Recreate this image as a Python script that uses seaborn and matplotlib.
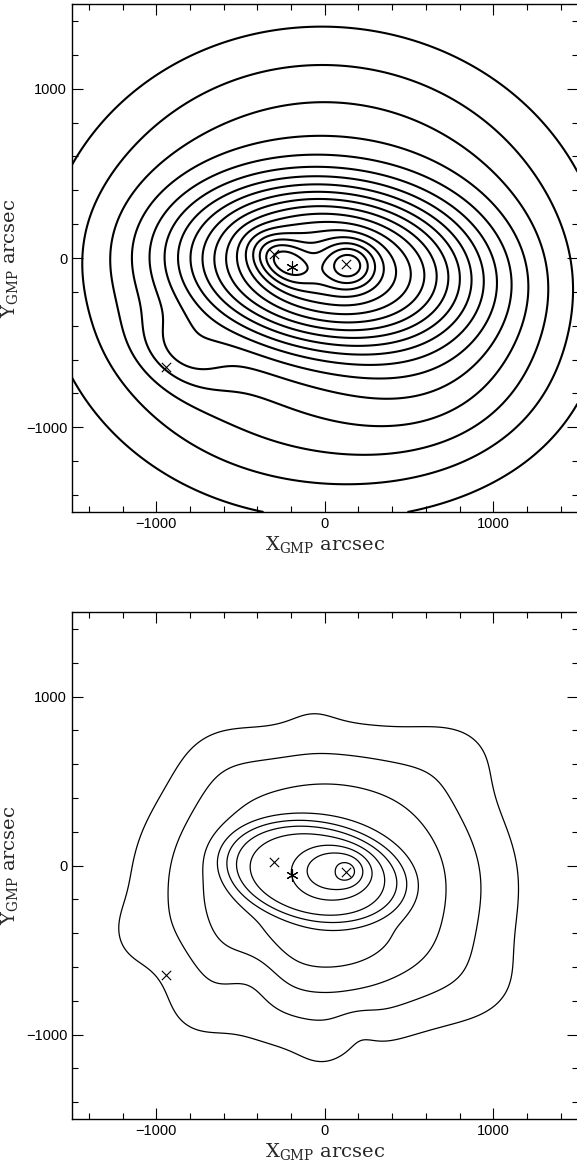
import numpy as np
import pandas as pd
import matplotlib
matplotlib.use("Agg")
import matplotlib.pyplot as plt
from matplotlib.ticker import MultipleLocator
import seaborn as sns

# source positions (arcsec), same in both panels
cross_x = [-300, 128, -940]
cross_y = [22, -38, -645]
star_x = [-197]
star_y = [-55]

# brightness models: one entry per emission component
# x0, y0 (arcsec), amplitude, widths (arcsec), tilt (deg), profile power
top_cx = [-20, 0, -245, 140, 300, -850, 700]
top_cy = [-80, -40, -18, -40, -150, -560, -700]
top_amp = [0.20, 0.49, 0.17, 0.18, 0.07, 0.08, 0.06]
top_sx = [1270, 640, 135, 110, 600, 200, 500]
top_sy = [1120, 360, 85, 95, 450, 130, 400]
top_ang = [0, -5, -30, 0, 0, -30, 0]
top_pow = [2.0, 1.3, 1.0, 1.0, 1.0, 1.0, 1.0]
top_levels = [0.05 * k for k in range(1, 19)]

bot_cx = [0, -60, 60, 136, -70, 800, -650, -1150, 950, -780, -20, 200, -420, 0]
bot_cy = [-125, -40, -30, -35, 900, 700, 650, -420, -750, -880, -1130, -960,
          -640, -480]
bot_amp = [0.385, 0.32, 0.17, 0.075, 0.02, 0.06, 0.04, 0.04, 0.05, 0.04, 0.025,
           -0.03, -0.06, 0.05]
bot_sx = [805, 483, 167, 50, 120, 250, 200, 130, 250, 150, 120, 90, 130, 350]
bot_sy = [680, 260, 110, 50, 120, 200, 200, 150, 200, 150, 120, 90, 150, 150]
bot_ang = [0, -10, 0, 0, 0, 0, 0, 0, 0, 0, 0, 0, 0, 0]
bot_pow = [1.5, 3.0, 1.7, 1, 1, 1, 1, 1, 1, 1, 1, 1, 1, 1]
bot_levels = [0.09 * k for k in range(1, 11)]


def model(cx, cy, amp, sx, sy, ang, pw, X, Y):
    Z = np.zeros_like(X)
    for x0, y0, a, s1, s2, t, p in zip(cx, cy, amp, sx, sy, ang, pw):
        t = np.deg2rad(t)
        u = (X - x0) * np.cos(t) + (Y - y0) * np.sin(t)
        v = -(X - x0) * np.sin(t) + (Y - y0) * np.cos(t)
        q = (u / s1) ** 2 + (v / s2) ** 2
        Z += a * np.exp(-0.5 * q ** p)
    return Z


sns.set_style("ticks")
plt.rcParams["font.family"] = ["Liberation Sans", "DejaVu Sans"]
plt.rcParams["mathtext.fontset"] = "dejavuserif"

grid = np.linspace(-1500, 1500, 401)
X, Y = np.meshgrid(grid, grid)

fig = plt.figure(figsize=(5.77, 11.62), dpi=100)
ax_top = fig.add_axes([72 / 577, 650 / 1162, 505.5 / 577, 508 / 1162])
ax_bot = fig.add_axes([72 / 577, 43 / 1162, 505.5 / 577, 507 / 1162])

panels = [
    (ax_top, model(top_cx, top_cy, top_amp, top_sx, top_sy, top_ang, top_pow, X, Y),
     top_levels, 1.5),
    (ax_bot, model(bot_cx, bot_cy, bot_amp, bot_sx, bot_sy, bot_ang, bot_pow, X, Y),
     bot_levels, 0.9),
]

for ax, Z, levels, lw in panels:
    ax.contour(X, Y, Z, levels=levels, colors="black", linewidths=lw)
    pts = pd.DataFrame({"x": cross_x, "y": cross_y})
    sns.scatterplot(data=pts, x="x", y="y", marker="x", s=45, color="black",
                    linewidth=0.8, ax=ax)
    stars = pd.DataFrame({"x": star_x, "y": star_y})
    sns.scatterplot(data=stars, x="x", y="y", marker=(6, 2, 0), s=70,
                    color="black", linewidth=0.8, ax=ax)
    ax.set_xlim(-1500, 1500)
    ax.set_ylim(-1500, 1500)
    ax.xaxis.set_major_locator(MultipleLocator(1000))
    ax.yaxis.set_major_locator(MultipleLocator(1000))
    ax.xaxis.set_minor_locator(MultipleLocator(200))
    ax.yaxis.set_minor_locator(MultipleLocator(200))
    ax.tick_params(which="both", direction="in", top=True, right=True,
                   width=0.8, colors="black", labelsize=10.5)
    ax.tick_params(which="major", length=8)
    ax.tick_params(which="minor", length=4)
    for sp in ax.spines.values():
        sp.set_linewidth(1.0)
        sp.set_color("black")
    ax.set_xlabel(r"X$_{\mathrm{GMP}}$ arcsec", fontsize=14,
                  fontfamily="DejaVu Serif", labelpad=2)
    ax.set_ylabel(r"Y$_{\mathrm{GMP}}$ arcsec", fontsize=14,
                  fontfamily="DejaVu Serif", labelpad=4)

fig.savefig("out.png", dpi=100, facecolor="white")
